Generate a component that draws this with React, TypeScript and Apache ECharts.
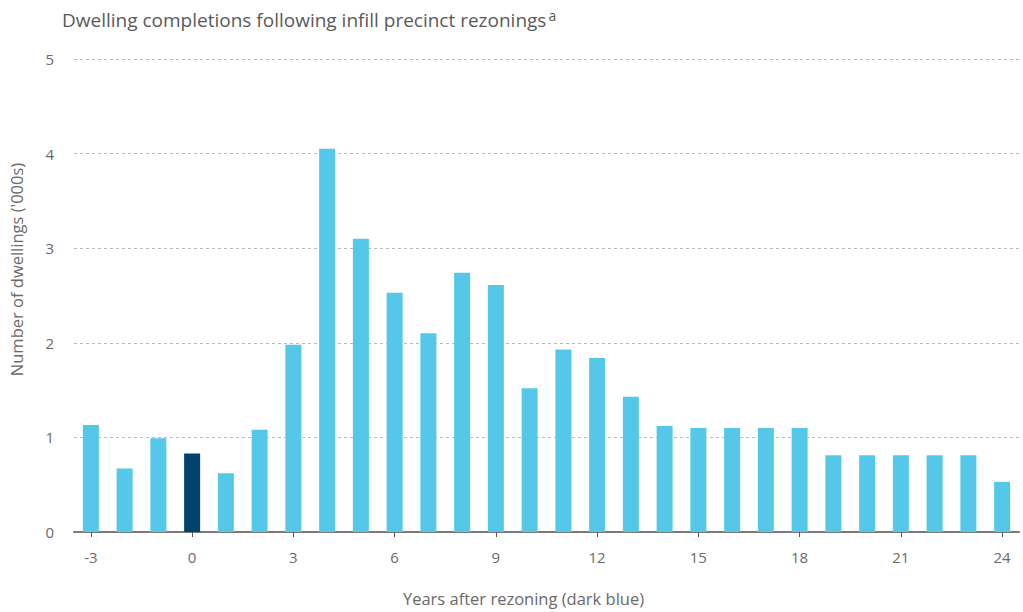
import React, { useEffect, useRef } from "react";
import * as echarts from "echarts";

const years: string[] = ["-3","-2","-1","0","1","2","3","4","5","6","7","8","9","10","11","12","13","14","15","16","17","18","19","20","21","22","23","24"];
const completions: number[] = [1.13,0.67,0.99,0.83,0.62,1.08,1.98,4.05,3.10,2.53,2.10,2.74,2.61,1.52,1.93,1.84,1.43,1.12,1.10,1.10,1.10,1.10,0.81,0.81,0.81,0.81,0.81,0.53];
const highlightYear = "0";
const yTicks = { min: 0, max: 5, interval: 1 };

const LIGHT = "#55c8e9";
const DARK = "#00426b";
const FONT = "'Open Sans', sans-serif";
const TXT = "#6a6a6a";

export default function App() {
  const ref = useRef<HTMLDivElement>(null);
  useEffect(() => {
    if (!ref.current) return;
    const chart = echarts.init(ref.current, undefined, { renderer: "svg" });
    chart.setOption({
      animation: false,
      textStyle: { fontFamily: FONT },
      title: {
        text: "{t|Dwelling completions following infill precinct rezonings}{s|a}",
        left: 57,
        top: 3,
        textStyle: {
          fontWeight: "normal",
          rich: {
            t: { fontSize: 19, color: "#5a5a5a", fontFamily: FONT, fontWeight: "normal" },
            s: { fontSize: 14, color: "#5a5a5a", fontFamily: FONT, fontWeight: "normal", verticalAlign: "top", padding: [0, 0, 10, 2] },
          },
        },
      },
      grid: { left: 67, right: 4, top: 59, bottom: 75 },
      xAxis: {
        type: "category",
        data: years,
        name: "Years after rezoning (dark blue)",
        nameLocation: "middle",
        nameGap: 58,
        nameTextStyle: { color: TXT, fontSize: 16.5, fontFamily: FONT, padding: [0, 46, 0, 0] },
        axisLine: { lineStyle: { color: "#7a7a7a", width: 2 } },
        axisTick: { show: true, interval: 2, alignWithLabel: true, length: 5, lineStyle: { color: "#555" } },
        axisLabel: { interval: 2, color: TXT, fontSize: 15, margin: 17, fontFamily: FONT },
      },
      yAxis: {
        type: "value",
        min: yTicks.min,
        max: yTicks.max,
        interval: yTicks.interval,
        name: "Number of dwellings ('000s)",
        nameLocation: "middle",
        nameGap: 49,
        nameTextStyle: { color: TXT, fontSize: 16.5, fontFamily: FONT, padding: [0, 0, 0, 52] },
        axisLine: { show: false },
        axisTick: { show: false },
        axisLabel: { color: TXT, fontSize: 15, margin: 20, fontFamily: FONT },
        splitLine: { lineStyle: { color: "#bbbbbb", type: [3, 3], width: 1 } },
      },
      series: [
        {
          type: "bar",
          barWidth: 16,
          data: completions.map((v, i) => ({
            value: v,
            itemStyle: { color: years[i] === highlightYear ? DARK : LIGHT },
          })),
        },
      ],
    });
    return () => chart.dispose();
  }, []);
  return <div ref={ref} style={{ width: 1023, height: 612, position: "absolute", left: 0, top: 0 }} />;
}
